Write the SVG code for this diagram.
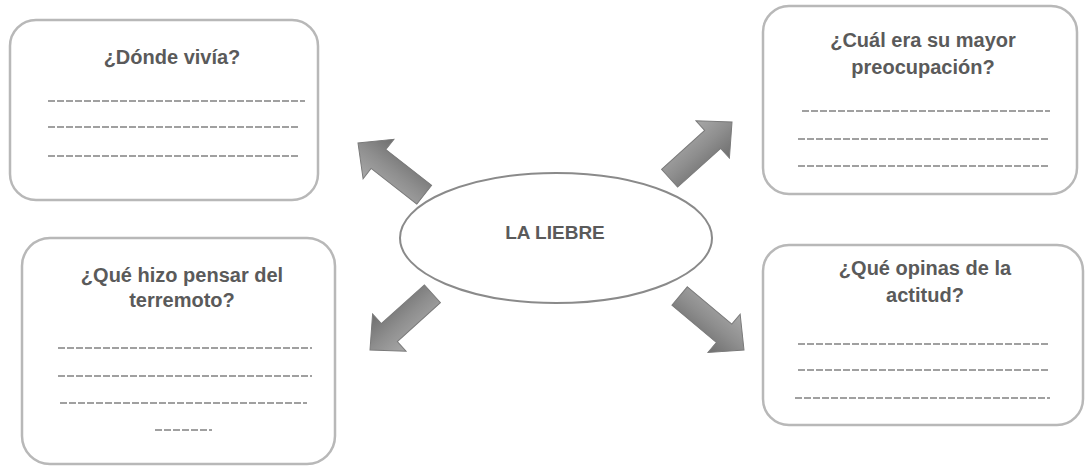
<svg xmlns="http://www.w3.org/2000/svg" width="1085" height="470" viewBox="0 0 1085 470">
<style>
.box{fill:#fff;stroke:#b8b8b8;stroke-width:2.5}
.q{font-family:"Liberation Sans",Arial,sans-serif;font-size:20px;fill:#5a5a5a;text-anchor:middle;font-weight:bold}
.c{font-size:19px}
.ln{stroke:#a0a0a0;stroke-width:2;stroke-dasharray:7 2}
.arr{fill:url(#g);stroke:#7a7a7a;stroke-width:1}
</style>
<defs>
<linearGradient id="g" x1="0" y1="0" x2="0" y2="1">
<stop offset="0" stop-color="#a8a8a8"/>
<stop offset="0.5" stop-color="#8e8e8e"/>
<stop offset="1" stop-color="#6e6e6e"/>
</linearGradient>
<polygon id="ah" points="-84,-12 -26,-12 -26,-25 0,0 -26,25 -26,12 -84,12"/>
</defs>
<rect width="1085" height="470" fill="#fff"/>
<g id="center">
<ellipse cx="556" cy="238" rx="156" ry="65" fill="#fff" stroke="#8a8a8a" stroke-width="2"/>
<text x="555" y="239" class="q c">LA LIEBRE</text>
</g>
<g id="box-donde">
<rect class="box" x="10" y="20" width="308" height="180" rx="26"/>
<text class="q" x="172" y="64">¿Dónde vivía?</text>
<line class="ln" x1="48" y1="101" x2="305" y2="101"/>
<line class="ln" x1="48" y1="127" x2="300" y2="127"/>
<line class="ln" x1="48" y1="156" x2="298" y2="156"/>
</g>
<g id="box-cual">
<rect class="box" x="763" y="6" width="314" height="188" rx="26"/>
<text class="q" x="923" y="47">¿Cuál era su mayor</text>
<text class="q" x="923" y="74">preocupación?</text>
<line class="ln" x1="802" y1="111" x2="1050" y2="111"/>
<line class="ln" x1="798" y1="139" x2="1050" y2="139"/>
<line class="ln" x1="798" y1="166" x2="1050" y2="166"/>
</g>
<g id="box-que-hizo">
<rect class="box" x="22" y="238" width="313" height="226" rx="28"/>
<text class="q" x="182" y="282">¿Qué hizo pensar del</text>
<text class="q" x="182" y="307">terremoto?</text>
<line class="ln" x1="58" y1="348" x2="312" y2="348"/>
<line class="ln" x1="58" y1="376" x2="312" y2="376"/>
<line class="ln" x1="60" y1="403" x2="307" y2="403"/>
<line class="ln" x1="155" y1="430" x2="212" y2="430"/>
</g>
<g id="box-opinas">
<rect class="box" x="763" y="245" width="320" height="180" rx="26"/>
<text class="q" x="925" y="275">¿Qué opinas de la</text>
<text class="q" x="925" y="302">actitud?</text>
<line class="ln" x1="798" y1="344" x2="1050" y2="344"/>
<line class="ln" x1="798" y1="370" x2="1050" y2="370"/>
<line class="ln" x1="795" y1="398" x2="1050" y2="398"/>
</g>
<g id="connectors">
<use href="#ah" class="arr" transform="translate(358,143) rotate(-142)"/>
<use href="#ah" class="arr" transform="translate(732,122) rotate(-42)"/>
<use href="#ah" class="arr" transform="translate(370,350) rotate(138)"/>
<use href="#ah" class="arr" transform="translate(744,350) rotate(40)"/>
</g>
</svg>
